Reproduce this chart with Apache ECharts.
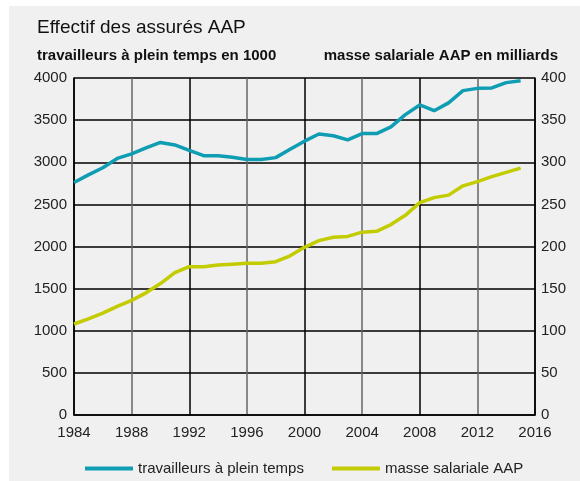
<!DOCTYPE html>
<html>
<head>
<meta charset="utf-8">
<script src="https://cdn.jsdelivr.net/npm/echarts@6/dist/echarts.min.js"></script>
<style>
html,body{margin:0;padding:0;background:#fff;}
#c{width:580px;height:481px;}
</style>
</head>
<body>
<div id="c"></div>
<script>
const years = [1984,1985,1986,1987,1988,1989,1990,1991,1992,1993,1994,1995,1996,1997,1998,1999,2000,2001,2002,2003,2004,2005,2006,2007,2008,2009,2010,2011,2012,2013,2014,2015];
const travailleurs = [2760,2850,2935,3045,3100,3170,3235,3205,3140,3078,3078,3060,3032,3032,3055,3155,3250,3335,3315,3265,3340,3340,3420,3565,3680,3612,3705,3850,3877,3882,3945,3968];
const masse = [108,114,121,129,136,145,156,169,176,176,178,179,180,180,182,189,199,207,211,212,217,218,226,237,252,258,261,272,277,283,288,293];
const xTicks = [1984,1988,1992,1996,2000,2004,2008,2012,2016];

const FONT = '"Liberation Sans", Arial, Helvetica, sans-serif';
const chart = echarts.init(document.getElementById('c'), null, {renderer:'canvas'});
chart.setOption({
  backgroundColor:'#ffffff',
  animation:false,
  graphic:[{type:'rect', left:9, top:6, shape:{width:571, height:475}, style:{fill:'#f0f0f0'}, z:-10}],
  title:[
    {text:'Effectif des assurés AAP', left:32, top:13, textStyle:{fontFamily:FONT, fontSize:19, fontWeight:'normal', color:'#111'}},
    {text:'travailleurs à plein temps en 1000', left:32, top:43, textStyle:{fontFamily:FONT, fontSize:15, fontWeight:'bold', color:'#111'}},
    {text:'masse salariale AAP en milliards', right:17, top:43, textStyle:{fontFamily:FONT, fontSize:15, fontWeight:'bold', color:'#111'}}
  ],
  legend:{
    bottom:5, left:85, padding:0, itemWidth:48, itemHeight:4, itemGap:28, icon:'rect',
    textStyle:{fontFamily:FONT, fontSize:15, color:'#222'},
    data:['travailleurs à plein temps','masse salariale AAP']
  },
  grid:{left:74, right:45, top:78, bottom:66},
  xAxis:{
    type:'value', min:1984, max:2016, interval:4,
    axisLine:{show:true, lineStyle:{color:'#000', width:1.5}},
    axisTick:{show:false},
    axisLabel:{fontFamily:FONT, fontSize:15, color:'#222', margin:10, formatter:v=>String(v)},
    splitLine:{show:true, lineStyle:{color:['#000','#666'], width:1.5}}
  },
  yAxis:[
    {type:'value', min:0, max:4000, interval:500, position:'left',
     axisLine:{show:true, lineStyle:{color:'#000', width:1.5}},
     axisTick:{show:false},
     axisLabel:{fontFamily:FONT, fontSize:15, color:'#222', margin:7, formatter:v=>String(v)},
     splitLine:{show:true, lineStyle:{color:'#000', width:1.5}}},
    {type:'value', min:0, max:400, interval:50, position:'right',
     axisLine:{show:true, lineStyle:{color:'#000', width:1.5}},
     axisTick:{show:false},
     axisLabel:{fontFamily:FONT, fontSize:15, color:'#222', margin:6, formatter:v=>String(v)},
     splitLine:{show:false}}
  ],
  series:[
    {name:'travailleurs à plein temps', type:'line', yAxisIndex:0, showSymbol:false,
     data:years.map((y,i)=>[y,travailleurs[i]]),
     lineStyle:{color:'#0e9db3', width:3.5}, itemStyle:{color:'#0e9db3'}},
    {name:'masse salariale AAP', type:'line', yAxisIndex:1, showSymbol:false,
     data:years.map((y,i)=>[y,masse[i]]),
     lineStyle:{color:'#c3cc00', width:3.5}, itemStyle:{color:'#c3cc00'}}
  ]
});
</script>
</body>
</html>
